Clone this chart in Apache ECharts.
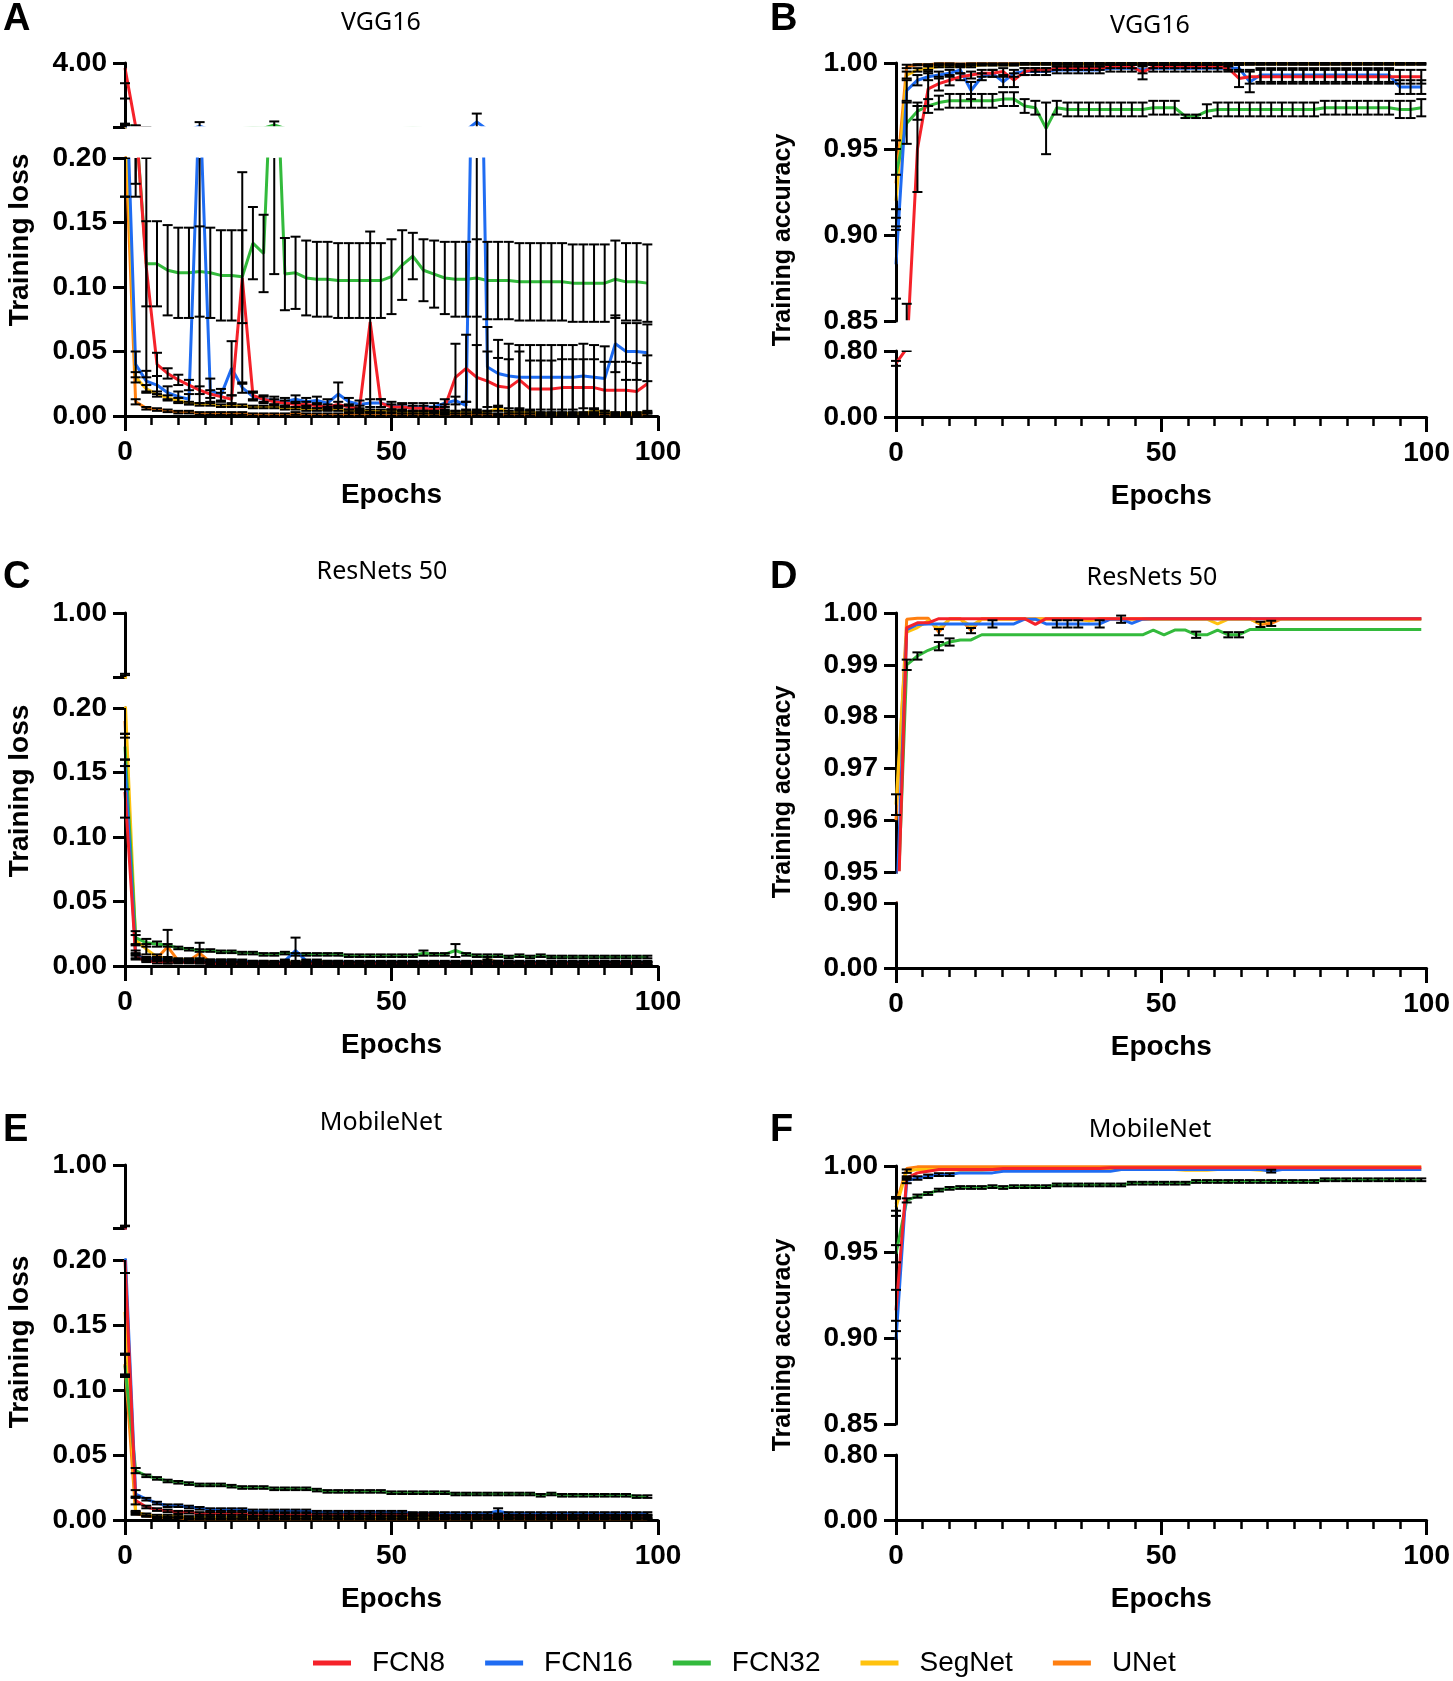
<!DOCTYPE html>
<html><head><meta charset="utf-8">
<script src="https://cdn.jsdelivr.net/npm/echarts@6/dist/echarts.min.js"></script>
<style>html,body{margin:0;padding:0;background:#fff}#c{width:1453px;height:1681px}</style>
</head><body><div id="c"></div>
<script>
const epochs=[0,2,4,6,8,10,12,14,16,18,20,22,24,26,28,30,32,34,36,38,40,42,44,46,48,50,52,54,56,58,60,62,64,66,68,70,72,74,76,78,80,82,84,86,88,90,92,94,96,98];
const seriesNames=['FCN8','FCN16','FCN32','SegNet','UNet'];
const xTickLabels=[0,50,100];

// ---------- Panel A : VGG16 training loss ----------
const A_FCN8=[3.7,0.23,0.115,0.040,0.033,0.028,0.024,0.020,0.017,0.015,0.013,0.107,0.016,0.013,0.011,0.010,0.009,0.009,0.008,0.007,0.009,0.007,0.006,0.073,0.010,0.007,0.007,0.006,0.006,0.005,0.007,0.030,0.037,0.030,0.027,0.023,0.022,0.028,0.021,0.021,0.021,0.022,0.022,0.022,0.022,0.020,0.020,0.020,0.019,0.025];
const A_FCN8_err=[0.9,0.05,0.085,0.009,0.004,0.004,0.004,0.003,0.003,0.003,0.003,0.082,0.003,0.002,0.002,0.002,0.002,0.002,0.002,0.002,0.002,0.002,0.002,0.070,0.003,0.002,0.002,0.002,0.002,0.002,0.002,0.026,0.026,0.025,0.023,0.022,0.022,0.022,0.022,0.022,0.022,0.022,0.022,0.022,0.022,0.022,0.022,0.022,0.022,0.022];
const A_FCN16=[0.29,0.040,0.027,0.024,0.018,0.015,0.013,0.25,0.020,0.016,0.037,0.022,0.015,0.013,0.012,0.011,0.013,0.011,0.012,0.010,0.017,0.011,0.009,0.010,0.010,0.008,0.007,0.007,0.007,0.007,0.010,0.012,0.008,0.50,0.038,0.033,0.031,0.030,0.030,0.030,0.030,0.030,0.030,0.031,0.030,0.029,0.056,0.050,0.050,0.049];
const A_FCN16_err=[1.6,0.010,0.008,0.007,0.005,0.004,0.004,0.24,0.009,0.005,0.021,0.004,0.003,0.003,0.003,0.003,0.003,0.003,0.003,0.003,0.009,0.003,0.003,0.003,0.003,0.003,0.003,0.003,0.003,0.003,0.003,0.003,0.003,0.497,0.031,0.026,0.025,0.025,0.025,0.025,0.025,0.025,0.025,0.025,0.025,0.025,0.022,0.022,0.022,0.022];
const A_FCN32=[0.30,0.23,0.118,0.118,0.113,0.111,0.111,0.112,0.111,0.109,0.109,0.108,0.134,0.126,0.32,0.110,0.111,0.107,0.106,0.106,0.105,0.105,0.105,0.105,0.105,0.108,0.117,0.124,0.113,0.110,0.107,0.106,0.106,0.107,0.105,0.105,0.105,0.104,0.104,0.104,0.104,0.104,0.103,0.103,0.103,0.103,0.106,0.104,0.104,0.103];
const A_FCN32_err=[0.10,0.06,0.033,0.033,0.035,0.035,0.035,0.035,0.035,0.035,0.035,0.036,0.028,0.030,0.21,0.028,0.028,0.029,0.029,0.029,0.029,0.029,0.029,0.029,0.029,0.029,0.027,0.018,0.024,0.026,0.028,0.029,0.029,0.030,0.030,0.030,0.030,0.030,0.030,0.030,0.030,0.030,0.030,0.030,0.030,0.030,0.030,0.030,0.030,0.030];
const A_SegNet=[0.25,0.030,0.021,0.017,0.014,0.012,0.010,0.009,0.009,0.008,0.008,0.008,0.007,0.007,0.007,0.006,0.006,0.005,0.005,0.005,0.005,0.004,0.004,0.004,0.004,0.004,0.003,0.003,0.003,0.003,0.003,0.003,0.003,0.003,0.003,0.006,0.003,0.003,0.003,0.002,0.002,0.002,0.002,0.002,0.004,0.003,0.002,0.002,0.002,0.003];
const A_SegNet_err=[0.08,0.004,0.003,0.002,0.002,0.002,0.001,0.001,0.001,0.001,0.001,0.001,0.001,0.001,0.001,0.001,0.001,0.001,0.001,0.001,0.001,0.001,0.001,0.001,0.001,0.001,0.001,0.001,0.001,0.001,0.001,0.001,0.001,0.001,0.001,0.002,0.001,0.001,0.001,0.001,0.001,0.001,0.001,0.001,0.002,0.001,0.001,0.001,0.001,0.001];
const A_UNet=[0.22,0.011,0.006,0.005,0.004,0.003,0.003,0.002,0.002,0.002,0.002,0.002,0.001,0.001,0.001,0.001,0.002,0.001,0.001,0.001,0.001,0.001,0.001,0.001,0.001,0.001,0.001,0.001,0.001,0.001,0.002,0.001,0.001,0.001,0.001,0.001,0.001,0.001,0.001,0.001,0.001,0.001,0.001,0.001,0.002,0.001,0.001,0.001,0.001,0.001];
const A_UNet_err=[0.05,0.002,0.001,0.001,0.001,0.001,0.001,0.001,0.001,0.001,0.001,0.001,0.001,0.001,0.001,0.001,0.001,0.001,0.001,0.001,0.001,0.001,0.001,0.001,0.001,0.001,0.001,0.001,0.001,0.001,0.001,0.001,0.001,0.001,0.001,0.001,0.001,0.001,0.001,0.001,0.001,0.001,0.001,0.001,0.001,0.001,0.001,0.001,0.001,0.001];

// ---------- Panel B : VGG16 training accuracy ----------
const B_FCN8=[0.65,0.83,0.950,0.985,0.988,0.990,0.992,0.993,0.994,0.994,0.995,0.990,0.995,0.996,0.996,0.997,0.997,0.997,0.997,0.997,0.998,0.998,0.998,0.9945,0.998,0.998,0.998,0.998,0.998,0.998,0.998,0.997,0.991,0.992,0.992,0.992,0.992,0.992,0.992,0.992,0.992,0.992,0.992,0.992,0.992,0.992,0.992,0.992,0.992,0.992];
const B_FCN8_err=[0.03,0.03,0.025,0.010,0.004,0.003,0.002,0.002,0.002,0.002,0.002,0.004,0.002,0.001,0.001,0.001,0.001,0.001,0.001,0.001,0.001,0.001,0.001,0.004,0.001,0.001,0.001,0.001,0.001,0.001,0.001,0.001,0.005,0.004,0.004,0.004,0.004,0.004,0.004,0.004,0.004,0.004,0.004,0.004,0.004,0.004,0.004,0.004,0.004,0.004];
const B_FCN16=[0.883,0.984,0.990,0.992,0.993,0.994,0.996,0.984,0.992,0.994,0.989,0.994,0.995,0.995,0.995,0.996,0.996,0.996,0.996,0.996,0.997,0.997,0.997,0.996,0.997,0.997,0.997,0.997,0.997,0.997,0.997,0.997,0.997,0.989,0.993,0.993,0.993,0.993,0.993,0.993,0.993,0.993,0.993,0.993,0.993,0.993,0.993,0.986,0.986,0.986];
const B_FCN16_err=[0.02,0.006,0.003,0.002,0.002,0.002,0.002,0.005,0.002,0.002,0.003,0.002,0.002,0.002,0.002,0.002,0.002,0.002,0.002,0.002,0.002,0.002,0.002,0.002,0.002,0.002,0.002,0.002,0.002,0.002,0.002,0.002,0.002,0.006,0.004,0.004,0.004,0.004,0.004,0.004,0.004,0.004,0.004,0.004,0.004,0.004,0.004,0.004,0.004,0.004];
const B_FCN32=[0.935,0.965,0.972,0.975,0.977,0.978,0.978,0.978,0.978,0.978,0.979,0.979,0.975,0.974,0.962,0.974,0.973,0.973,0.973,0.973,0.973,0.973,0.973,0.973,0.974,0.974,0.974,0.969,0.969,0.972,0.973,0.973,0.973,0.973,0.973,0.973,0.973,0.973,0.973,0.973,0.974,0.974,0.974,0.974,0.974,0.974,0.974,0.973,0.973,0.974];
const B_FCN32_err=[0.02,0.012,0.005,0.004,0.004,0.004,0.004,0.004,0.004,0.004,0.004,0.004,0.004,0.004,0.015,0.004,0.004,0.004,0.004,0.004,0.004,0.004,0.004,0.004,0.004,0.004,0.004,0.001,0.001,0.004,0.004,0.004,0.004,0.004,0.004,0.004,0.004,0.004,0.004,0.004,0.004,0.004,0.004,0.004,0.004,0.004,0.004,0.005,0.005,0.005];
const B_SegNet=[0.920,0.993,0.996,0.997,0.998,0.998,0.998,0.998,0.999,0.999,0.999,0.999,0.9995,0.9995,0.9995,0.9995,0.9995,0.9995,0.9995,0.9995,0.9995,0.9995,0.9995,0.9995,0.9995,0.9995,0.9995,0.9995,0.9995,0.9995,0.9995,0.9995,0.9995,0.9995,0.9995,0.9995,0.9995,0.9995,0.9995,0.9995,0.9995,0.9995,0.9995,0.9995,0.9995,0.9995,0.9995,0.9995,0.9995,0.9995];
const B_SegNet_err=[0.015,0.002,0.001,0.001,0.0005,0.0005,0.0005,0.0005,0.0005,0.0005,0.0005,0.0005,0.0005,0.0005,0.0005,0.0005,0.0005,0.0005,0.0005,0.0005,0.0005,0.0005,0.0005,0.0005,0.0005,0.0005,0.0005,0.0005,0.0005,0.0005,0.0005,0.0005,0.0005,0.0005,0.0005,0.0005,0.0005,0.0005,0.0005,0.0005,0.0005,0.0005,0.0005,0.0005,0.0005,0.0005,0.0005,0.0005,0.0005,0.0005];
const B_UNet=[0.930,0.998,0.999,0.999,0.9995,0.9995,0.9993,0.9995,0.9995,0.9995,0.9995,0.9995,0.9995,0.9995,0.9995,0.9995,0.9995,0.9995,0.9995,0.9995,0.9995,0.9995,0.9995,0.9995,0.9995,0.9995,0.9995,0.9995,0.9995,0.9995,0.9995,0.9995,0.9995,0.9995,0.9995,0.9995,0.9995,0.9995,0.9995,0.9995,0.9995,0.9995,0.9995,0.9995,0.9995,0.9995,0.9995,0.9995,0.9995,0.9995];
const B_UNet_err=[0.02,0.001,0.0003,0.0003,0.0003,0.0003,0.0003,0.0003,0.0003,0.0003,0.0003,0.0003,0.0003,0.0003,0.0003,0.0003,0.0003,0.0003,0.0003,0.0003,0.0003,0.0003,0.0003,0.0003,0.0003,0.0003,0.0003,0.0003,0.0003,0.0003,0.0003,0.0003,0.0003,0.0003,0.0003,0.0003,0.0003,0.0003,0.0003,0.0003,0.0003,0.0003,0.0003,0.0003,0.0003,0.0003,0.0003,0.0003,0.0003,0.0003];

// ---------- Panel C : ResNets 50 training loss ----------
const C_FCN8=[0.135,0.007,0.004,0.003,0.003,0.003,0.003,0.003,0.002,0.002,0.002,0.002,0.002,0.002,0.002,0.002,0.002,0.002,0.002,0.002,0.002,0.002,0.002,0.002,0.002,0.002,0.002,0.002,0.002,0.002,0.002,0.002,0.002,0.002,0.002,0.002,0.002,0.002,0.002,0.002,0.002,0.002,0.002,0.002,0.002,0.002,0.002,0.002,0.002,0.002];
const C_FCN8_err=[0.02,0.002,0.001,0.001,0.001,0.001,0.001,0.001,0.001,0.001,0.001,0.001,0.001,0.001,0.001,0.001,0.001,0.001,0.001,0.001,0.001,0.001,0.001,0.001,0.001,0.001,0.001,0.001,0.001,0.001,0.001,0.001,0.001,0.001,0.001,0.001,0.001,0.001,0.001,0.001,0.001,0.001,0.001,0.001,0.001,0.001,0.001,0.001,0.001,0.001];
const C_FCN16=[0.157,0.008,0.006,0.005,0.005,0.004,0.004,0.004,0.004,0.004,0.004,0.004,0.003,0.003,0.002,0.004,0.012,0.004,0.003,0.003,0.003,0.003,0.003,0.003,0.003,0.003,0.003,0.003,0.003,0.003,0.003,0.003,0.003,0.003,0.003,0.003,0.003,0.003,0.003,0.003,0.003,0.003,0.003,0.003,0.003,0.003,0.003,0.003,0.003,0.003];
const C_FCN16_err=[0.02,0.002,0.001,0.001,0.001,0.001,0.001,0.001,0.001,0.001,0.001,0.001,0.001,0.001,0.001,0.001,0.010,0.001,0.001,0.001,0.001,0.001,0.001,0.001,0.001,0.001,0.001,0.001,0.001,0.001,0.001,0.001,0.001,0.001,0.001,0.001,0.001,0.001,0.001,0.001,0.001,0.001,0.001,0.001,0.001,0.001,0.001,0.001,0.001,0.001];
const C_FCN32=[0.17,0.022,0.018,0.017,0.016,0.014,0.013,0.012,0.012,0.011,0.011,0.010,0.010,0.009,0.009,0.010,0.009,0.009,0.009,0.009,0.009,0.008,0.008,0.008,0.008,0.008,0.008,0.008,0.010,0.009,0.009,0.012,0.009,0.008,0.007,0.008,0.007,0.008,0.007,0.008,0.007,0.007,0.007,0.007,0.007,0.007,0.007,0.007,0.007,0.007];
const C_FCN32_err=[0.01,0.005,0.003,0.002,0.001,0.001,0.001,0.001,0.001,0.001,0.001,0.001,0.001,0.001,0.001,0.001,0.001,0.001,0.001,0.001,0.001,0.001,0.001,0.001,0.001,0.001,0.001,0.001,0.002,0.001,0.001,0.005,0.001,0.001,0.002,0.001,0.001,0.001,0.001,0.001,0.001,0.001,0.001,0.001,0.001,0.001,0.001,0.001,0.001,0.001];
const C_SegNet=[0.21,0.020,0.013,0.007,0.006,0.005,0.005,0.005,0.004,0.004,0.004,0.003,0.003,0.003,0.003,0.003,0.003,0.003,0.004,0.003,0.003,0.002,0.002,0.002,0.002,0.002,0.002,0.002,0.002,0.002,0.002,0.002,0.002,0.002,0.002,0.002,0.002,0.002,0.002,0.002,0.002,0.002,0.002,0.002,0.002,0.002,0.002,0.002,0.002,0.002];
const C_SegNet_err=[0.03,0.004,0.004,0.002,0.001,0.001,0.001,0.001,0.001,0.001,0.001,0.001,0.001,0.001,0.001,0.001,0.001,0.001,0.001,0.001,0.001,0.001,0.001,0.001,0.001,0.001,0.001,0.001,0.001,0.001,0.001,0.001,0.001,0.001,0.001,0.001,0.001,0.001,0.001,0.001,0.001,0.001,0.001,0.001,0.001,0.001,0.001,0.001,0.001,0.001];
const C_UNet=[0.19,0.010,0.005,0.006,0.015,0.004,0.004,0.010,0.003,0.003,0.003,0.002,0.002,0.002,0.002,0.002,0.002,0.002,0.002,0.002,0.002,0.002,0.002,0.002,0.002,0.002,0.002,0.002,0.002,0.002,0.002,0.002,0.002,0.002,0.005,0.003,0.002,0.002,0.002,0.002,0.002,0.002,0.002,0.002,0.002,0.002,0.002,0.002,0.002,0.002];
const C_UNet_err=[0.03,0.002,0.001,0.001,0.013,0.001,0.001,0.008,0.001,0.001,0.001,0.001,0.001,0.001,0.001,0.001,0.001,0.001,0.001,0.001,0.001,0.001,0.001,0.001,0.001,0.001,0.001,0.001,0.001,0.001,0.001,0.001,0.001,0.001,0.002,0.001,0.001,0.001,0.001,0.001,0.001,0.001,0.001,0.001,0.001,0.001,0.001,0.001,0.001,0.001];

// ---------- Panel D : ResNets 50 training accuracy ----------
const D_FCN8=[0.930,0.9972,0.9981,0.9981,0.9989,0.9989,0.9989,0.9989,0.9989,0.9989,0.9989,0.9989,0.9989,0.9978,0.9989,0.9989,0.9989,0.9989,0.9989,0.9989,0.9989,0.9989,0.9989,0.9989,0.9989,0.9989,0.9989,0.9989,0.9989,0.9989,0.9989,0.9989,0.9989,0.9989,0.9989,0.9989,0.9989,0.9989,0.9989,0.9989,0.9989,0.9989,0.9989,0.9989,0.9989,0.9989,0.9989,0.9989,0.9989,0.9989];
const D_FCN8_err=[0,0,0,0,0,0,0,0,0,0,0,0,0,0,0,0,0,0,0,0,0,0,0,0,0,0,0,0,0,0,0,0,0,0,0,0,0,0,0,0,0,0,0,0,0,0,0,0,0,0];
const D_FCN16=[0.940,0.9968,0.9978,0.9979,0.9979,0.9979,0.9979,0.9979,0.9979,0.9979,0.9979,0.9979,0.9988,0.9988,0.9979,0.9979,0.9979,0.9979,0.9979,0.9979,0.9988,0.9988,0.9980,0.9988,0.9989,0.9989,0.9989,0.9989,0.9989,0.9989,0.9989,0.9989,0.9989,0.9989,0.9989,0.9989,0.9989,0.9989,0.9989,0.9989,0.9989,0.9989,0.9989,0.9989,0.9989,0.9989,0.9989,0.9989,0.9989,0.9989];
const D_FCN16_err=[0,0,0,0,0,0,0,0,0,0.0007,0,0,0,0,0,0.0007,0.0007,0.0007,0,0.0007,0,0.0007,0,0,0,0,0,0,0,0,0,0,0,0,0,0,0,0,0,0,0,0,0,0,0,0,0,0,0,0];
const D_FCN32=[0.935,0.9900,0.9917,0.9928,0.9936,0.9944,0.9948,0.9948,0.9958,0.9958,0.9958,0.9958,0.9958,0.9958,0.9958,0.9958,0.9958,0.9958,0.9958,0.9958,0.9958,0.9958,0.9958,0.9958,0.9967,0.9958,0.9967,0.9967,0.9958,0.9958,0.9967,0.9958,0.9958,0.9968,0.9968,0.9968,0.9968,0.9968,0.9968,0.9968,0.9968,0.9968,0.9968,0.9968,0.9968,0.9968,0.9968,0.9968,0.9968,0.9968];
const D_FCN32_err=[0,0.0010,0.0007,0,0.0008,0.0007,0,0,0,0,0,0,0,0,0,0,0,0,0,0,0,0,0,0,0,0,0,0,0.0006,0,0,0.0005,0.0005,0,0,0,0,0,0,0,0,0,0,0,0,0,0,0,0,0];
const D_SegNet=[0.963,0.9963,0.9972,0.9985,0.9970,0.9988,0.9988,0.9975,0.9988,0.9988,0.9988,0.9988,0.9988,0.9988,0.9988,0.9988,0.9988,0.9988,0.9985,0.9988,0.9988,0.9988,0.9988,0.9988,0.9988,0.9988,0.9988,0.9988,0.9988,0.9988,0.9979,0.9988,0.9988,0.9988,0.9980,0.9988,0.9988,0.9988,0.9988,0.9988,0.9988,0.9988,0.9988,0.9988,0.9988,0.9988,0.9988,0.9988,0.9988,0.9988];
const D_SegNet_err=[0.002,0,0,0,0,0,0,0,0,0,0,0,0,0,0,0,0,0,0,0,0,0,0,0,0,0,0,0,0,0,0,0,0,0,0,0,0,0,0,0,0,0,0,0,0,0,0,0,0,0];
const D_UNet=[0.960,0.9988,0.9990,0.9990,0.9963,0.9989,0.9989,0.9966,0.9989,0.9989,0.9989,0.9989,0.9989,0.9989,0.9989,0.9989,0.9989,0.9989,0.9985,0.9989,0.9989,0.9989,0.9989,0.9989,0.9989,0.9989,0.9989,0.9989,0.9989,0.9989,0.9989,0.9989,0.9989,0.9989,0.9978,0.9980,0.9989,0.9989,0.9989,0.9989,0.9989,0.9989,0.9989,0.9989,0.9989,0.9989,0.9989,0.9989,0.9989,0.9989];
const D_UNet_err=[0,0,0,0,0.0006,0,0,0.0005,0,0,0,0,0,0,0,0,0,0,0,0,0,0,0,0,0,0,0,0,0,0,0,0,0,0,0.0005,0.0005,0,0,0,0,0,0,0,0,0,0,0,0,0,0];

// ---------- Panel E : MobileNet training loss ----------
const E_FCN8=[0.20,0.015,0.010,0.008,0.007,0.006,0.006,0.005,0.005,0.005,0.005,0.005,0.004,0.004,0.004,0.004,0.004,0.004,0.004,0.004,0.004,0.004,0.004,0.004,0.004,0.004,0.004,0.004,0.004,0.004,0.003,0.003,0.003,0.003,0.003,0.003,0.003,0.003,0.003,0.003,0.003,0.003,0.003,0.003,0.003,0.003,0.003,0.003,0.003,0.003];
const E_FCN8_err=[0.01,0.003,0.001,0.001,0.001,0.001,0.001,0.001,0.001,0.001,0.001,0.001,0.001,0.001,0.001,0.001,0.001,0.001,0.001,0.001,0.001,0.001,0.001,0.001,0.001,0.001,0.001,0.001,0.001,0.001,0.001,0.001,0.001,0.001,0.001,0.001,0.001,0.001,0.001,0.001,0.001,0.001,0.001,0.001,0.001,0.001,0.001,0.001,0.001,0.001];
const E_FCN16=[0.21,0.020,0.016,0.013,0.011,0.011,0.010,0.009,0.008,0.008,0.008,0.008,0.007,0.007,0.007,0.007,0.007,0.007,0.006,0.006,0.006,0.006,0.006,0.006,0.006,0.006,0.006,0.005,0.005,0.005,0.005,0.005,0.005,0.005,0.005,0.007,0.005,0.005,0.005,0.005,0.005,0.005,0.005,0.005,0.005,0.005,0.005,0.005,0.005,0.005];
const E_FCN16_err=[0.02,0.003,0.001,0.001,0.001,0.001,0.001,0.001,0.001,0.001,0.001,0.001,0.001,0.001,0.001,0.001,0.001,0.001,0.001,0.001,0.001,0.001,0.001,0.001,0.001,0.001,0.001,0.001,0.001,0.001,0.001,0.001,0.001,0.001,0.001,0.002,0.001,0.001,0.001,0.001,0.001,0.001,0.001,0.001,0.001,0.001,0.001,0.001,0.001,0.001];
const E_FCN32=[0.119,0.038,0.034,0.032,0.030,0.029,0.028,0.027,0.027,0.027,0.026,0.025,0.025,0.025,0.024,0.024,0.024,0.024,0.023,0.022,0.022,0.022,0.022,0.022,0.022,0.021,0.021,0.021,0.021,0.021,0.021,0.020,0.020,0.020,0.020,0.020,0.020,0.020,0.020,0.019,0.020,0.019,0.019,0.019,0.019,0.019,0.019,0.019,0.018,0.018];
const E_FCN32_err=[0.008,0.002,0.001,0.001,0.001,0.001,0.001,0.001,0.001,0.001,0.001,0.001,0.001,0.001,0.001,0.001,0.001,0.001,0.001,0.001,0.001,0.001,0.001,0.001,0.001,0.001,0.001,0.001,0.001,0.001,0.001,0.001,0.001,0.001,0.001,0.001,0.001,0.001,0.001,0.001,0.001,0.001,0.001,0.001,0.001,0.001,0.001,0.001,0.001,0.001];
const E_SegNet=[0.16,0.006,0.004,0.003,0.003,0.003,0.002,0.002,0.002,0.002,0.002,0.002,0.002,0.002,0.002,0.002,0.002,0.002,0.002,0.002,0.002,0.002,0.002,0.002,0.002,0.002,0.002,0.002,0.002,0.002,0.002,0.002,0.002,0.002,0.002,0.002,0.002,0.002,0.002,0.002,0.002,0.002,0.002,0.002,0.002,0.002,0.002,0.002,0.002,0.002];
const E_SegNet_err=[0.05,0.001,0.001,0.001,0.001,0.001,0.001,0.001,0.001,0.001,0.001,0.001,0.001,0.001,0.001,0.001,0.001,0.001,0.001,0.001,0.001,0.001,0.001,0.001,0.001,0.001,0.001,0.001,0.001,0.001,0.001,0.001,0.001,0.001,0.001,0.001,0.001,0.001,0.001,0.001,0.001,0.001,0.001,0.001,0.001,0.001,0.001,0.001,0.001,0.001];
const E_UNet=[0.12,0.005,0.003,0.002,0.002,0.002,0.001,0.001,0.001,0.001,0.001,0.001,0.001,0.001,0.001,0.001,0.001,0.001,0.001,0.001,0.001,0.001,0.001,0.001,0.001,0.001,0.001,0.001,0.001,0.001,0.001,0.001,0.001,0.001,0.001,0.001,0.001,0.001,0.001,0.001,0.001,0.001,0.001,0.001,0.001,0.001,0.001,0.001,0.001,0.001];
const E_UNet_err=[0.008,0.001,0.0005,0.0005,0.0005,0.0005,0.0005,0.0005,0.0005,0.0005,0.0005,0.0005,0.0005,0.0005,0.0005,0.0005,0.0005,0.0005,0.0005,0.0005,0.0005,0.0005,0.0005,0.0005,0.0005,0.0005,0.0005,0.0005,0.0005,0.0005,0.0005,0.0005,0.0005,0.0005,0.0005,0.0005,0.0005,0.0005,0.0005,0.0005,0.0005,0.0005,0.0005,0.0005,0.0005,0.0005,0.0005,0.0005,0.0005,0.0005];

// ---------- Panel F : MobileNet training accuracy ----------
const F_FCN8=[0.916,0.993,0.996,0.997,0.998,0.998,0.998,0.998,0.998,0.998,0.9985,0.9985,0.9985,0.9985,0.9985,0.9985,0.9985,0.9985,0.9985,0.9985,0.999,0.999,0.999,0.999,0.999,0.999,0.999,0.999,0.999,0.999,0.999,0.999,0.999,0.999,0.999,0.999,0.999,0.999,0.999,0.999,0.999,0.999,0.999,0.999,0.999,0.999,0.999,0.999,0.999,0.999];
const F_FCN8_err=[0.012,0.001,0,0,0,0,0,0,0,0,0,0,0,0,0,0,0,0,0,0,0,0,0,0,0,0,0,0,0,0,0,0,0,0,0,0,0,0,0,0,0,0,0,0,0,0,0,0,0,0];
const F_FCN16=[0.899,0.9915,0.993,0.994,0.995,0.995,0.996,0.996,0.996,0.996,0.997,0.997,0.997,0.997,0.997,0.997,0.997,0.997,0.997,0.997,0.997,0.998,0.998,0.998,0.998,0.998,0.998,0.998,0.998,0.998,0.998,0.998,0.998,0.998,0.998,0.997,0.998,0.998,0.998,0.998,0.998,0.998,0.998,0.998,0.998,0.998,0.998,0.998,0.998,0.998];
const F_FCN16_err=[0.011,0.0015,0.001,0.001,0.0008,0.0008,0,0,0,0,0,0,0,0,0,0,0,0,0,0,0,0,0,0,0,0,0,0,0,0,0,0,0,0,0,0.0008,0,0,0,0,0,0,0,0,0,0,0,0,0,0];
const F_FCN32=[0.949,0.980,0.9825,0.984,0.986,0.987,0.9875,0.9875,0.9875,0.988,0.9875,0.988,0.988,0.988,0.988,0.989,0.989,0.989,0.989,0.989,0.989,0.989,0.990,0.990,0.990,0.990,0.990,0.990,0.991,0.991,0.991,0.991,0.991,0.991,0.991,0.991,0.991,0.991,0.991,0.991,0.992,0.992,0.992,0.992,0.992,0.992,0.992,0.992,0.992,0.992];
const F_FCN32_err=[0.005,0.0012,0.0009,0.0008,0.0008,0.0008,0.0008,0.0008,0.0008,0.0008,0.0008,0.0008,0.0008,0.0008,0.0008,0.0008,0.0008,0.0008,0.0008,0.0008,0.0008,0.0008,0.0008,0.0008,0.0008,0.0008,0.0008,0.0008,0.0008,0.0008,0.0008,0.0008,0.0008,0.0008,0.0008,0.0008,0.0008,0.0008,0.0008,0.0008,0.0008,0.0008,0.0008,0.0008,0.0008,0.0008,0.0008,0.0008,0.0008,0.0008];
const F_SegNet=[0.976,0.997,0.998,0.998,0.998,0.998,0.9975,0.9975,0.9975,0.998,0.998,0.998,0.998,0.998,0.9975,0.998,0.998,0.998,0.998,0.998,0.9975,0.998,0.998,0.998,0.998,0.998,0.998,0.9975,0.9975,0.9975,0.998,0.998,0.998,0.998,0.9975,0.998,0.998,0.998,0.998,0.998,0.998,0.998,0.998,0.998,0.998,0.998,0.998,0.998,0.998,0.998];
const F_SegNet_err=[0.005,0.001,0,0,0,0,0,0,0,0,0,0,0,0,0,0,0,0,0,0,0,0,0,0,0,0,0,0,0,0,0,0,0,0,0,0,0,0,0,0,0,0,0,0,0,0,0,0,0,0];
const F_UNet=[0.978,0.9985,0.9995,0.9995,0.9995,0.9995,0.9995,0.9995,0.9995,0.9995,0.9995,0.9995,0.9995,0.9995,0.9995,0.9995,0.9995,0.9995,0.9995,0.9995,0.9995,0.9995,0.9995,0.9995,0.9995,0.9995,0.9995,0.9995,0.9995,0.9995,0.9995,0.9995,0.9995,0.9995,0.9995,0.9995,0.9995,0.9995,0.9995,0.9995,0.9995,0.9995,0.9995,0.9995,0.9995,0.9995,0.9995,0.9995,0.9995,0.9995];
const F_UNet_err=[0.004,0,0,0,0,0,0,0,0,0,0,0,0,0,0,0,0,0,0,0,0,0,0,0,0,0,0,0,0,0,0,0,0,0,0,0,0,0,0,0,0,0,0,0,0,0,0,0,0,0];

// ---------- layout / styling ----------
const FF='"Liberation Sans", Arial, sans-serif';
const colors={FCN8:'#F5222A',FCN16:'#1F6CF2',FCN32:'#33BA3C',SegNet:'#FFC20E',UNet:'#FF7F10'};
const drawOrder=['UNet','SegNet','FCN32','FCN16','FCN8'];

const panels=[
 {letter:'A',title:'VGG16',ylab:'Training loss',left:125,width:533,lx:3,ly:20,tx:381,ty:23,yx:20,yy:240,
  d:{FCN8:[A_FCN8,A_FCN8_err],FCN16:[A_FCN16,A_FCN16_err],FCN32:[A_FCN32,A_FCN32_err],SegNet:[A_SegNet,A_SegNet_err],UNet:[A_UNet,A_UNet_err]},
  segs:[{top:63,bottom:127,min:0.2,max:4,interval:3.8,only:4},{top:158,bottom:416,min:0,max:0.2,interval:0.05,x:true}]},
 {letter:'B',title:'VGG16',ylab:'Training accuracy',left:896,width:536,lx:770,ly:20,tx:1150,ty:26,yx:783,yy:240,
  d:{FCN8:[B_FCN8,B_FCN8_err],FCN16:[B_FCN16,B_FCN16_err],FCN32:[B_FCN32,B_FCN32_err],SegNet:[B_SegNet,B_SegNet_err],UNet:[B_UNet,B_UNet_err]},
  segs:[{top:63,bottom:321,min:0.85,max:1.0,interval:0.05},{top:351,bottom:417,min:0,max:0.8,interval:0.8,x:true}]},
 {letter:'C',title:'ResNets 50',ylab:'Training loss',left:125,width:533,lx:3,ly:578,tx:382,ty:572,yx:20,yy:791,
  d:{FCN8:[C_FCN8,C_FCN8_err],FCN16:[C_FCN16,C_FCN16_err],FCN32:[C_FCN32,C_FCN32_err],SegNet:[C_SegNet,C_SegNet_err],UNet:[C_UNet,C_UNet_err]},
  segs:[{top:613,bottom:677,min:0.2,max:1.0,interval:0.8,only:1},{top:708,bottom:966,min:0,max:0.2,interval:0.05,x:true}]},
 {letter:'D',title:'ResNets 50',ylab:'Training accuracy',left:896,width:536,lx:770,ly:578,tx:1152,ty:578,yx:783,yy:792,
  d:{FCN8:[D_FCN8,D_FCN8_err],FCN16:[D_FCN16,D_FCN16_err],FCN32:[D_FCN32,D_FCN32_err],SegNet:[D_SegNet,D_SegNet_err],UNet:[D_UNet,D_UNet_err]},
  segs:[{top:613,bottom:872,min:0.95,max:1.0,interval:0.01},{top:903,bottom:968,min:0,max:0.9,interval:0.9,x:true}]},
 {letter:'E',title:'MobileNet',ylab:'Training loss',left:125,width:533,lx:3,ly:1131,tx:381,ty:1123,yx:20,yy:1342,
  d:{FCN8:[E_FCN8,E_FCN8_err],FCN16:[E_FCN16,E_FCN16_err],FCN32:[E_FCN32,E_FCN32_err],SegNet:[E_SegNet,E_SegNet_err],UNet:[E_UNet,E_UNet_err]},
  segs:[{top:1165,bottom:1228,min:0.2,max:1.0,interval:0.8,only:1},{top:1260,bottom:1520,min:0,max:0.2,interval:0.05,x:true}]},
 {letter:'F',title:'MobileNet',ylab:'Training accuracy',left:896,width:536,lx:770,ly:1131,tx:1150,ty:1130,yx:783,yy:1345,
  d:{FCN8:[F_FCN8,F_FCN8_err],FCN16:[F_FCN16,F_FCN16_err],FCN32:[F_FCN32,F_FCN32_err],SegNet:[F_SegNet,F_SegNet_err],UNet:[F_UNet,F_UNet_err]},
  segs:[{top:1166,bottom:1424,min:0.85,max:1.0,interval:0.05},{top:1455,bottom:1520,min:0,max:0.8,interval:0.8,x:true}]}
];

const axisLine={show:true,lineStyle:{color:'#000',width:3}};
const grids=[],xAxes=[],yAxes=[],series=[],graphics=[];

function errSeries(gi,seg,vals,errs){
  const ymin=seg.min,ymax=seg.max;
  return {type:'custom',name:'err',xAxisIndex:gi,yAxisIndex:gi,z:4,silent:true,animation:false,
    data:epochs.map((e,i)=>[e,vals[i],errs[i]]),
    encode:{x:0,y:1},
    renderItem:function(params,api){
      const xv=api.value(0),yv=api.value(1),ev=api.value(2);
      if(!(ev>0)) return null;
      const lo=yv-ev,hi=yv+ev;
      if(hi<ymin||lo>ymax) return null;
      const loC=Math.max(lo,ymin),hiC=Math.min(hi,ymax);
      const p1=api.coord([xv,loC]),p2=api.coord([xv,hiC]);
      const st={stroke:'#000',lineWidth:2};
      const ch=[{type:'line',shape:{x1:p1[0],y1:p1[1],x2:p2[0],y2:p2[1]},style:st}];
      if(hi<=ymax) ch.push({type:'line',shape:{x1:p2[0]-5,y1:p2[1],x2:p2[0]+5,y2:p2[1]},style:st});
      if(lo>=ymin) ch.push({type:'line',shape:{x1:p1[0]-5,y1:p1[1],x2:p1[0]+5,y2:p1[1]},style:st});
      return {type:'group',children:ch};
    }};
}

panels.forEach(p=>{
  p.segs.forEach(s=>{
    const gi=grids.length;
    grids.push({left:p.left,top:s.top,width:p.width,height:s.bottom-s.top,containLabel:false});
    if(s.x){
      xAxes.push({gridIndex:gi,type:'value',min:0,max:100,interval:50,
        axisLine:axisLine,
        axisTick:{show:true,length:15,lineStyle:{color:'#000',width:3}},
        minorTick:{show:true,splitNumber:10,length:9,lineStyle:{color:'#000',width:2.5}},
        splitLine:{show:false},minorSplitLine:{show:false},
        axisLabel:{color:'#000',fontSize:28,fontWeight:'bold',fontFamily:FF,margin:22,
          formatter:v=>(xTickLabels.indexOf(Math.round(v))>=0?String(Math.round(v)):'')},
        name:'Epochs',nameLocation:'middle',nameGap:65,
        nameTextStyle:{color:'#000',fontSize:28,fontWeight:'bold',fontFamily:FF}});
    } else {
      xAxes.push({gridIndex:gi,type:'value',min:0,max:100,show:false});
    }
    yAxes.push({gridIndex:gi,type:'value',min:s.min,max:s.max,interval:s.interval,
      axisLine:axisLine,
      axisTick:{show:true,length:12,lineStyle:{color:'#000',width:3}},
      splitLine:{show:false},
      axisLabel:{color:'#000',fontSize:28,fontWeight:'bold',fontFamily:FF,margin:18,showMinLabel:true,showMaxLabel:true,
        formatter:function(v){ if(s.only!==undefined){return Math.abs(v-s.only)<1e-6?s.only.toFixed(2):'';} return v.toFixed(2);} }});
    drawOrder.forEach(n=>{
      const vals=p.d[n][0];
      series.push({type:'line',name:n,xAxisIndex:gi,yAxisIndex:gi,data:epochs.map((e,i)=>[e,vals[i]]),
        showSymbol:false,symbol:'none',color:colors[n],lineStyle:{width:3,color:colors[n]},clip:true,z:2,animation:false,silent:true});
    });
    drawOrder.forEach(n=>{
      series.push(errSeries(gi,s,p.d[n][0],p.d[n][1]));
    });
  });
  // white mask over the gap between the two axis segments (hides line overflow)
  const up=p.segs[0],lo=p.segs[1];
  graphics.push({type:'rect',z:100,silent:true,shape:{x:p.left+2,y:up.bottom-0.8,width:p.width+8,height:lo.top-up.bottom+0.2},style:{fill:'#fff'}});
  graphics.push({type:'text',z:101,x:p.lx,y:p.ly,style:{text:p.letter,font:'bold 38px '+FF,fill:'#000',align:'left',verticalAlign:'middle'}});
  graphics.push({type:'text',z:101,x:p.tx,y:p.ty,style:{text:p.title,font:'25px "Noto Sans", sans-serif',fill:'#000',align:'center',verticalAlign:'middle'}});
  const ysz=p.ylab==='Training loss'?28:25;
  graphics.push({type:'text',z:101,x:p.yx,y:p.yy,rotation:Math.PI/2,style:{text:p.ylab,font:'bold '+ysz+'px '+FF,fill:'#000',align:'center',verticalAlign:'middle'}});
});

const chart=echarts.init(document.getElementById('c'),null,{renderer:'canvas',width:1453,height:1681});
chart.setOption({
  backgroundColor:'#fff',
  animation:false,
  grid:grids,xAxis:xAxes,yAxis:yAxes,series:series,
  graphic:graphics,
  legend:{data:seriesNames,left:308,top:1644,icon:'rect',itemWidth:38,itemHeight:5,itemGap:40,selectedMode:false,
    textStyle:{color:'#000',fontSize:28,fontFamily:FF,padding:[0,0,0,16]}}
});
</script>
</body></html>
